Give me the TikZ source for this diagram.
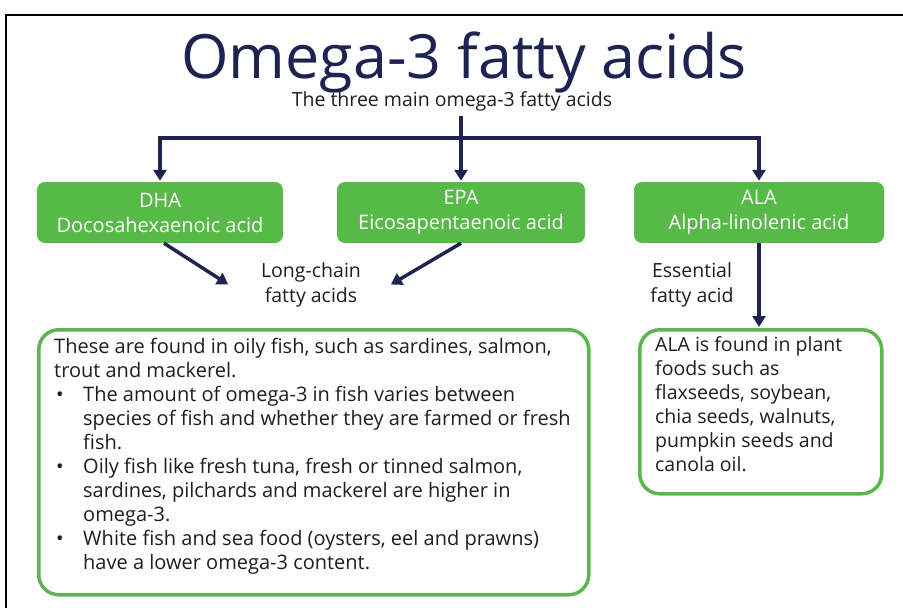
\documentclass[tikz,border=0pt]{standalone}
\usepackage{fontspec}
\setmainfont{Open Sans}
\usetikzlibrary{arrows.meta,positioning,calc}
\definecolor{navy}{HTML}{1F2352}
\definecolor{leaf}{HTML}{57B947}
\definecolor{leafline}{HTML}{5DB54F}
\definecolor{ink}{HTML}{1E1E1E}

\begin{document}
\begin{tikzpicture}[x=1pt,y=-1pt,>=Triangle,
  acid/.style={fill=leaf,rounded corners=8pt,text=white,align=center,
    minimum height=61pt,inner sep=0pt,font=\fontsize{20}{25}\selectfont},
  infobox/.style={draw=leafline,line width=3.5pt,rounded corners=20pt,
    anchor=north west,inner sep=0pt},
  infotext/.style={text=ink,align=left,anchor=north west,inner sep=0pt,
    font=\fontsize{20}{24}\selectfont},
  arr/.style={navy,line width=3.5pt,shorten >=1pt,
    arrows={-Triangle[width=13pt,length=11pt]}},
  note/.style={text=ink,align=center,font=\fontsize{19.5}{24.5}\selectfont}]
\useasboundingbox (0,0) rectangle (903,608);
% frame
\draw[line width=1.2pt] (6,608) -- (6,15) -- (903,15);
\node[navy,anchor=base,font=\fontsize{61}{61}\selectfont] (title) at (464,78) {Omega-3 fatty acids};
\node[ink,anchor=base,font=\fontsize{19.5}{20}\selectfont] (sub) at (452,106) {The three main omega-3 fatty acids};
% acids
\node[acid,minimum width=246pt] (dha) at (160,212.5) {DHA\\Docosahexaenoic acid};
\node[acid,minimum width=248pt] (epa) at (461,212.5) {EPA\\Eicosapentaenoic acid};
\node[acid,minimum width=250pt] (ala) at (759,212.5) {ALA\\Alpha-linolenic acid};
\coordinate (fork) at (461,138);
\draw[navy,line width=3.5pt] (fork |- 0,116) -- (fork);
\draw[arr] (fork) -| (dha.north);
\draw[arr] (fork) -- (epa.north);
\draw[arr] (fork) -| (ala.north);
% labels
\node[note] (lc) at (311,285) {Long-chain\\fatty acids};
\node[note] (ess) at (692,285) {Essential\\fatty acid};
\coordinate (lcL) at (229,285);
\coordinate (lcR) at (390,285);
\draw[arr] (dha.south -| 164,0) -- (lcL);
\draw[arr] (epa.south) -- (lcR);
% info boxes
\node[infobox,minimum width=550pt,minimum height=265pt] (fish) at (37,328) {};
\node[infotext] (fishtxt) at (54,338)
 {These are found in oily fish, such as sardines, salmon,\\
  trout and mackerel.\\
  \makebox[29pt][l]{\hspace{2pt}\textbullet}The amount of omega-3 in fish varies between\\
  \hspace*{29pt}species of fish and whether they are farmed or fresh\\
  \hspace*{29pt}fish.\\
  \makebox[29pt][l]{\hspace{2pt}\textbullet}Oily fish like fresh tuna, fresh or tinned salmon,\\
  \hspace*{29pt}sardines, pilchards and mackerel are higher in\\
  \hspace*{29pt}omega-3.\\
  \makebox[29pt][l]{\hspace{2pt}\textbullet}White fish and sea food (oysters, eel and prawns)\\
  \hspace*{29pt}have a lower omega-3 content.};
\node[infobox,minimum width=242pt,minimum height=164pt] (plant) at (638,328) {};
\node[infotext,font=\fontsize{19.5}{24}\selectfont] (planttxt) at (655,336)
 {ALA is found in plant\\foods such as\\flaxseeds, soybean,\\chia seeds, walnuts,\\pumpkin seeds and\\canola oil.};
\draw[arr] (ala.south) -- (plant.north -| ala.south);
\end{tikzpicture}
\end{document}
